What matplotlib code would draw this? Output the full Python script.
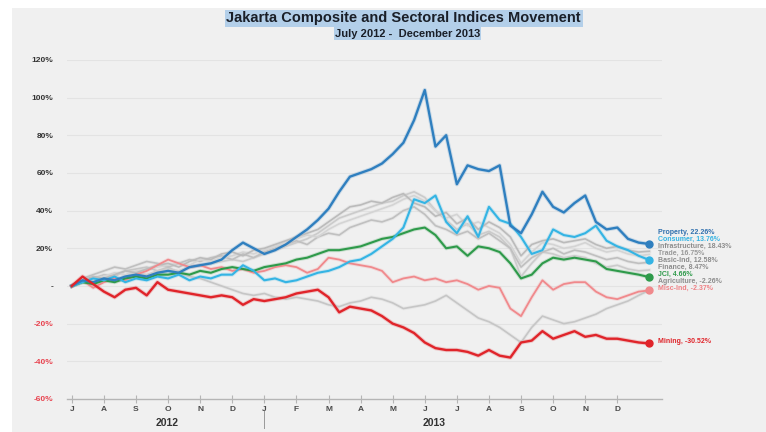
import numpy as np
import matplotlib
matplotlib.use("Agg")
import matplotlib.pyplot as plt
from matplotlib.patches import Rectangle
from matplotlib.transforms import blended_transform_factory

plt.rcParams['font.family'] = ['Liberation Sans', 'DejaVu Sans']

# ---------------------------------------
# DATA: cumulative change (%) since July 2012, three readings per month
# ---------------------------------------

month_labels = ["J", "A", "S", "O", "N", "D", "J", "F", "M", "A", "M", "J",
                "J", "A", "S", "O", "N", "D"]
years = ["2012", "2013"]

property_idx = [0, 3, 2, 4, 3, 5, 6, 5, 7, 8, 7, 10, 11, 12, 14, 19, 23, 20,
                17, 19, 22, 26, 30, 35, 41, 50, 58, 60, 62, 65, 70, 76, 88,
                104, 74, 80, 54, 64, 62, 61, 64, 32, 28, 38, 50, 42, 39, 44,
                48, 34, 30, 31, 25, 23, 22.26]
consumer = [0, 2, 4, 3, 5, 2, 4, 3, 5, 4, 6, 3, 5, 4, 6, 6, 11, 8,
            3, 4, 2, 3, 5, 7, 8, 10, 13, 14, 17, 21, 25, 31, 46,
            44, 48, 34, 28, 37, 26, 42, 35, 33, 26, 17, 19, 30, 27, 26,
            28, 32, 24, 21, 19, 16, 13.76]
infrastructure = [0, 3, 5, 4, 6, 8, 7, 9, 11, 12, 10, 13, 15, 14, 17, 18, 16, 19,
                  20, 22, 24, 26, 28, 30, 34, 38, 42, 43, 45, 44, 47, 49, 44,
                  42, 37, 39, 33, 36, 30, 34, 31, 26, 16, 22, 24, 25, 23, 24,
                  25, 22, 20, 21, 19, 18, 18.43]
trade = [0, 2, 4, 5, 7, 6, 8, 9, 10, 11, 12, 11, 14, 13, 15, 16, 18, 17,
         19, 21, 23, 25, 27, 26, 30, 33, 35, 37, 39, 41, 43, 46, 48,
         45, 40, 36, 38, 32, 34, 31, 28, 22, 12, 18, 23, 22, 20, 21,
         23, 20, 18, 19, 17, 16, 16.75]
basic_ind = [0, 4, 6, 8, 10, 9, 11, 13, 12, 10, 12, 14, 13, 15, 16, 14, 17, 15,
             18, 20, 22, 24, 22, 26, 28, 27, 31, 33, 35, 34, 36, 40, 42,
             38, 32, 30, 27, 29, 25, 28, 24, 20, 10, 15, 18, 20, 17, 19,
             18, 16, 14, 15, 13, 12, 12.58]
finance = [0, 2, 3, 4, 3, 5, 7, 6, 8, 9, 8, 10, 11, 12, 13, 14, 13, 15,
           17, 19, 21, 23, 25, 28, 32, 36, 38, 40, 42, 44, 45, 48, 50,
           47, 40, 35, 30, 33, 27, 29, 26, 20, 5, 12, 18, 17, 15, 16,
           15, 12, 10, 11, 9, 8, 8.47]
jci = [0, 2, 1, 3, 2, 4, 5, 4, 6, 6, 7, 6, 8, 7, 9, 10, 9, 8,
       10, 11, 12, 14, 15, 17, 19, 19, 20, 21, 23, 25, 26, 28, 30,
       31, 27, 20, 21, 16, 21, 20, 18, 12, 4, 6, 12, 15, 14, 15,
       14, 13, 9, 8, 7, 6, 4.66]
agriculture = [0, 2, 4, 6, 5, 8, 9, 10, 8, 10, 7, 5, 4, 2, 0, -2, -4, -5,
               -4, -6, -7, -6, -7, -8, -10, -11, -9, -8, -6, -7, -9, -12, -11,
               -10, -8, -5, -9, -13, -17, -19, -22, -26, -30, -22, -16, -18, -20, -19,
               -17, -15, -12, -10, -8, -5, -2.26]
misc_ind = [0, 3, -1, 2, 4, 3, 6, 8, 11, 14, 12, 10, 11, 9, 10, 8, 9, 7,
            8, 10, 11, 10, 7, 9, 15, 14, 12, 11, 10, 8, 2, 4, 5,
            3, 4, 2, 3, 1, -2, 0, -1, -12, -16, -6, 3, -2, 1, 2,
            2, -3, -6, -7, -5, -3, -2.37]
mining = [0, 5, 1, -3, -6, -2, -1, -5, 2, -2, -3, -4, -5, -6, -5, -6, -10, -7,
          -8, -7, -6, -4, -3, -2, -6, -14, -11, -12, -13, -16, -20, -22, -25,
          -30, -33, -34, -34, -35, -37, -34, -37, -38, -30, -29, -24, -28, -26, -24,
          -27, -26, -28, -28, -29, -30, -30.52]

# months since 1 July 2012
t = np.arange(len(mining)) / 3.0

# name, values, line colour, label colour, width, end dot
series = [
    ("Agriculture", agriculture, "#c6c6c6", "#8c8c8c", 1.2, False),
    ("Finance", finance, "#cbcbcb", "#8c8c8c", 1.2, False),
    ("Basic-Ind", basic_ind, "#c0c0c0", "#8c8c8c", 1.2, False),
    ("Trade", trade, "#d4d4d4", "#999999", 1.2, False),
    ("Infrastructure", infrastructure, "#bbbbbb", "#8c8c8c", 1.2, False),
    ("Misc-Ind", misc_ind, "#f0898c", "#ef7f84", 1.3, True),
    ("JCI", jci, "#2e9a4a", "#2e9a4a", 1.5, True),
    ("Consumer", consumer, "#34b4e4", "#34b4e4", 1.5, True),
    ("Property", property_idx, "#2f7fbf", "#2f6fae", 1.7, True),
    ("Mining", mining, "#e0242a", "#e0242a", 1.7, True),
]

# label heights at the right edge (percent units)
label_y = {"Property": 28.2, "Consumer": 24.5, "Infrastructure": 20.8,
           "Trade": 17.1, "Basic-Ind": 13.4, "Finance": 9.7, "JCI": 6.0,
           "Agriculture": 2.3, "Misc-Ind": -1.4, "Mining": -29.7}

# ---------------------------------------
# FIGURE
# ---------------------------------------

fig = plt.figure(figsize=(7.66, 4.32), dpi=100, facecolor="white")
fig.patches.append(Rectangle((12 / 766, 0), 1, 1 - 8 / 432, transform=fig.transFigure,
                             facecolor="#f0f0f0", edgecolor="none", zorder=-10))

ax = fig.add_axes([0.0875, 0.0764, 0.777, 0.785])
ax.set_facecolor("none")
ax.set_xlim(-0.15, 18.4)
ax.set_ylim(-60, 120)

for y in range(-40, 121, 20):
    ax.axhline(y, color="#e3e3e3", lw=0.8, zorder=0)

for name, vals, col, lcol, lw, dot in series:
    ax.plot(t, vals, color=col, lw=lw + 1.4, alpha=0.2, solid_joinstyle="round", zorder=2)
    ax.plot(t, vals, color=col, lw=lw, solid_joinstyle="round", zorder=3)
    if dot:
        ax.plot(t[-1], vals[-1], "o", color=col, ms=5, zorder=4)
    ax.text(18.28, label_y[name], f"{name}, {vals[-1]:.2f}%",
            color=lcol, fontsize=5, fontweight="bold", va="center", ha="left",
            clip_on=False)

for side in ["top", "right", "left"]:
    ax.spines[side].set_visible(False)
ax.spines["bottom"].set_color("#b5b5b5")
ax.spines["bottom"].set_linewidth(1.0)

ax.set_xticks(range(len(month_labels)))
ax.set_xticklabels(month_labels, fontsize=6, fontweight="bold", color="#4a4a4a")
ax.tick_params(axis="x", direction="inout", length=6, color="#b5b5b5", pad=2)

yt = list(range(-60, 121, 20))
ax.set_yticks(yt)
ax.set_yticklabels(["-" if v == 0 else f"{v}%" for v in yt], fontsize=6,
                   fontweight="bold")
for lab, v in zip(ax.get_yticklabels(), yt):
    lab.set_color("#e8434f" if v < 0 else "#333333")
ax.tick_params(axis="y", length=0, pad=10)

trans = blended_transform_factory(ax.transData, ax.transAxes)
ax.text(2.96, -0.071, years[0], transform=trans, ha="center", va="center",
        fontsize=7.5, fontweight="bold", color="#333333")
ax.text(11.3, -0.071, years[1], transform=trans, ha="center", va="center",
        fontsize=7.5, fontweight="bold", color="#333333")
ax.plot([6, 6], [-0.035, -0.085], transform=trans, color="#999999", lw=0.7, clip_on=False)

fig.text(0.527, 0.958, "Jakarta Composite and Sectoral Indices Movement",
         ha="center", va="center", fontsize=10.5, fontweight="bold", color="#1a1f28",
         bbox=dict(facecolor="#b3cfe9", edgecolor="none", pad=1.2))
fig.text(0.532, 0.922, "July 2012 -  December 2013", ha="center", va="center",
         fontsize=8, fontweight="bold", color="#1a1f28",
         bbox=dict(facecolor="#b3cfe9", edgecolor="none", pad=1.0))

fig.savefig("out.png", dpi=100, facecolor=fig.get_facecolor())
